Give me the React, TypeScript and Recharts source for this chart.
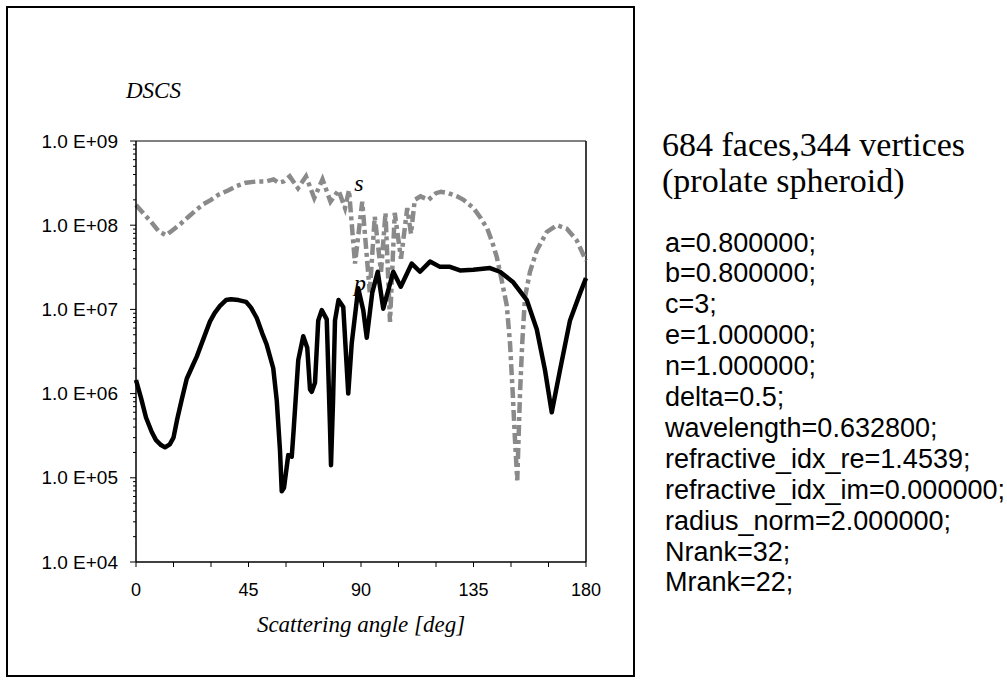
import { LineChart, Line, XAxis, YAxis, ReferenceLine, ReferenceDot } from "recharts";

// p polarisation (solid black)
const P_ANGLES = [
  0, 2, 4, 6.3, 8, 10, 11.6, 13.5, 15, 16.5, 18.3, 20.3, 22.5, 24.3, 27, 29.6, 31.5, 33.6, 36, 38,
  41, 44, 46, 48.3, 50.5, 52.3, 54.9, 56.3, 57.6, 58.3, 59.2, 60.9, 62.3, 63, 64.9, 66.9, 68.5,
  69.6, 70.3, 71.6, 72.9, 74.3, 76.3, 77.6, 78, 78.8, 79.6, 81, 82.9, 84.9, 86.3, 88.9, 90.9, 92.3,
  94.5, 96.7, 98.9, 102.9, 105.9, 110.3, 113.6, 117.6, 121.6, 125.6, 129.6, 134.9, 141.6, 145.6,
  150.9, 156.3, 160.3, 163.6, 166.3, 169.6, 173.6, 177.6, 180,
];
const P_DSCS = [
  1.45e6, 8.9e5, 5.2e5, 3.5e5, 2.8e5, 2.45e5, 2.3e5, 2.5e5, 3.0e5, 5.0e5, 8.5e5, 1.5e6, 2.1e6,
  2.75e6, 4.5e6, 7.2e6, 9.1e6, 1.1e7, 1.29e7, 1.32e7, 1.29e7, 1.23e7, 1.05e7, 7.9e6, 5.2e6, 3.8e6,
  2.0e6, 8.3e5, 2.1e5, 6.9e4, 7.6e4, 1.86e5, 1.78e5, 3.5e5, 2.5e6, 4.8e6, 3.5e6, 1.12e6, 1.05e6,
  1.35e6, 7.4e6, 9.8e6, 7.6e6, 4.0e5, 1.41e5, 7.9e5, 7.4e6, 1.29e7, 1.07e7, 1.0e6, 4.0e6, 1.78e7,
  9.8e6, 4.6e6, 1.58e7, 2.8e7, 1.02e7, 2.8e7, 1.86e7, 3.5e7, 2.8e7, 3.7e7, 3.2e7, 3.2e7, 2.9e7,
  2.95e7, 3.1e7, 2.8e7, 2.1e7, 1.29e7, 5.8e6, 1.9e6, 6.0e5, 1.9e6, 7.4e6, 1.55e7, 2.35e7,
];

// s polarisation (grey dash-dot)
const S_ANGLES = [
  0, 3, 6, 9, 12, 15, 18, 21, 24, 27, 30, 33, 37, 40, 44, 48, 52, 55, 57, 59, 61.5, 64.8, 68, 71.3,
  74.6, 77.8, 81, 83.6, 85.2, 87.6, 90.5, 93.5, 95.5, 98, 99.8, 101.6, 103.5, 106, 108.5, 110,
  111.5, 113.8, 117, 120, 122, 125, 128.4, 131, 135, 138, 140.5, 142.5, 144.3, 146.3, 148.3, 149.6,
  150.7, 151.5, 152.5, 153.6, 154.5, 155.6, 157.6, 160.3, 164.3, 168.3, 172.3, 176.3, 180,
];
const S_DSCS = [
  1.74e8, 1.38e8, 1.1e8, 8.5e7, 7.6e7, 8.9e7, 1.05e8, 1.26e8, 1.51e8, 1.78e8, 2.0e8, 2.3e8, 2.6e8,
  2.9e8, 3.2e8, 3.3e8, 3.3e8, 3.5e8, 3.2e8, 3.3e8, 3.8e8, 2.75e8, 3.8e8, 2.1e8, 3.5e8, 1.9e8, 2.6e8,
  1.6e8, 2.6e8, 3.5e7, 1.9e8, 1.6e7, 1.26e8, 2.8e7, 1.4e8, 7.1e6, 1.4e8, 4.0e7, 1.6e8, 7.9e7, 2.0e8,
  2.2e8, 2.0e8, 2.4e8, 2.5e8, 2.4e8, 2.2e8, 2.0e8, 1.6e8, 1.2e8, 9.1e7, 6.3e7, 4.2e7, 2.2e7, 1.12e7,
  4.0e6, 1.0e6, 3.2e5, 9.3e4, 1.0e6, 4.0e6, 1.4e7, 2.8e7, 5.0e7, 8.3e7, 1.0e8, 9.1e7, 6.6e7, 3.8e7,
];

const X_TICKS = [0, 15, 30, 45, 60, 75, 90, 105, 120, 135, 150, 165, 180];
const X_LABELS = [0, 45, 90, 135, 180];
const Y_DECADES = [1e4, 1e5, 1e6, 1e7, 1e8, 1e9];
const Y_MINOR = Y_DECADES.slice(0, -1).flatMap((d) => [2, 3, 4, 5, 6, 7, 8, 9].map((k) => k * d));

const HEADER = ["684 faces,344 vertices", "(prolate spheroid)"];
const PARAMS = [
  "a=0.800000;",
  "b=0.800000;",
  "c=3;",
  "e=1.000000;",
  "n=1.000000;",
  "delta=0.5;",
  "wavelength=0.632800;",
  "refractive_idx_re=1.4539;",
  "refractive_idx_im=0.000000;",
  "radius_norm=2.000000;",
  "Nrank=32;",
  "Mrank=22;",
];

const SANS = "'Liberation Sans', Arial, sans-serif";
const SERIF = "'Liberation Serif', 'Times New Roman', serif";

const pData = P_ANGLES.map((a, i) => ({ angle: a, dscs: P_DSCS[i] }));
const sData = S_ANGLES.map((a, i) => ({ angle: a, dscs: S_DSCS[i] }));

function fmtExp(v: number) {
  const e = Math.round(Math.log10(v));
  return `1.0 E+${String(e).padStart(2, "0")}`;
}

// major decades get a label and a longer tick, the rest are short minor ticks
function YTick({ x, y, payload }: { x: number; y: number; payload: { value: number } }) {
  const major = Y_DECADES.includes(payload.value);
  return (
    <g>
      <line x1={x - (major ? 6 : 3)} x2={x} y1={y} y2={y} stroke="#000" strokeWidth={1} />
      {major && (
        <text x={x - 18} y={y} dy="0.35em" textAnchor="end" fontSize={19} fontFamily={SANS} fill="#000">
          {fmtExp(payload.value)}
        </text>
      )}
    </g>
  );
}

export default function App() {
  return (
    <div style={{ position: "absolute", left: 0, top: 0, width: 1007, height: 682, background: "#fff" }}>
      <div
        style={{
          position: "absolute",
          left: 6,
          top: 6,
          width: 629,
          height: 671,
          border: "2px solid #000",
          boxSizing: "border-box",
        }}
      />
      <div
        style={{
          position: "absolute",
          left: 126,
          top: 78,
          fontFamily: SERIF,
          fontStyle: "italic",
          fontSize: 23,
          lineHeight: "26px",
        }}
      >
        DSCS
      </div>

      <div style={{ position: "absolute", left: 0, top: 0 }}>
        <LineChart width={640} height={682} margin={{ top: 141, right: 54, bottom: 60, left: 36 }}>
          <XAxis
            type="number"
            dataKey="angle"
            domain={[0, 180]}
            ticks={X_TICKS}
            interval={0}
            tickSize={5}
            tickMargin={16}
            height={60}
            stroke="#000"
            strokeWidth={1.5}
            tickLine={{ stroke: "#000", strokeWidth: 1 }}
            tick={{ fontSize: 18, fontFamily: SANS, fill: "#000" }}
            tickFormatter={(v: number) => (X_LABELS.includes(v) ? String(v) : "")}
          />
          <YAxis
            scale="log"
            domain={[1e4, 1e9]}
            allowDataOverflow
            ticks={[...Y_DECADES, ...Y_MINOR]}
            interval={0}
            width={100}
            tickSize={0}
            tickMargin={0}
            tickLine={false}
            stroke="#000"
            strokeWidth={1.5}
            tick={(props: any) => <YTick {...props} />}
          />
          <ReferenceLine y={1e9} stroke="#000" strokeWidth={1} />
          <ReferenceLine x={180} stroke="#000" strokeWidth={1.5} />
          <Line
            data={sData}
            dataKey="dscs"
            type="linear"
            stroke="#8a8a8a"
            strokeWidth={4.5}
            strokeDasharray="11 4 4 4"
            dot={false}
            isAnimationActive={false}
          />
          <Line
            data={pData}
            dataKey="dscs"
            type="linear"
            stroke="#000"
            strokeWidth={4.5}
            strokeLinejoin="round"
            dot={false}
            isAnimationActive={false}
          />
          <ReferenceDot
            x={89.2}
            y={3.26e8}
            r={0}
            fill="none"
            stroke="none"
            label={{ value: "s", position: "center", fontSize: 24, fontStyle: "italic", fontFamily: SERIF, fill: "#000" }}
          />
          <ReferenceDot
            x={89.6}
            y={2.1e7}
            r={0}
            fill="none"
            stroke="none"
            label={{ value: "p", position: "center", fontSize: 24, fontStyle: "italic", fontFamily: SERIF, fill: "#000" }}
          />
        </LineChart>
      </div>

      <div
        style={{
          position: "absolute",
          left: 136,
          top: 612,
          width: 450,
          textAlign: "center",
          fontFamily: SERIF,
          fontStyle: "italic",
          fontSize: 23,
          lineHeight: "26px",
        }}
      >
        Scattering angle [deg]
      </div>

      <div style={{ position: "absolute", left: 662, top: 127, fontFamily: SERIF, fontSize: 34, lineHeight: "36px" }}>
        {HEADER.map((h) => (
          <div key={h}>{h}</div>
        ))}
      </div>
      <div style={{ position: "absolute", left: 665, top: 227.5, fontFamily: SANS, fontSize: 27, lineHeight: "30.9px" }}>
        {PARAMS.map((p) => (
          <div key={p}>{p}</div>
        ))}
      </div>
    </div>
  );
}
